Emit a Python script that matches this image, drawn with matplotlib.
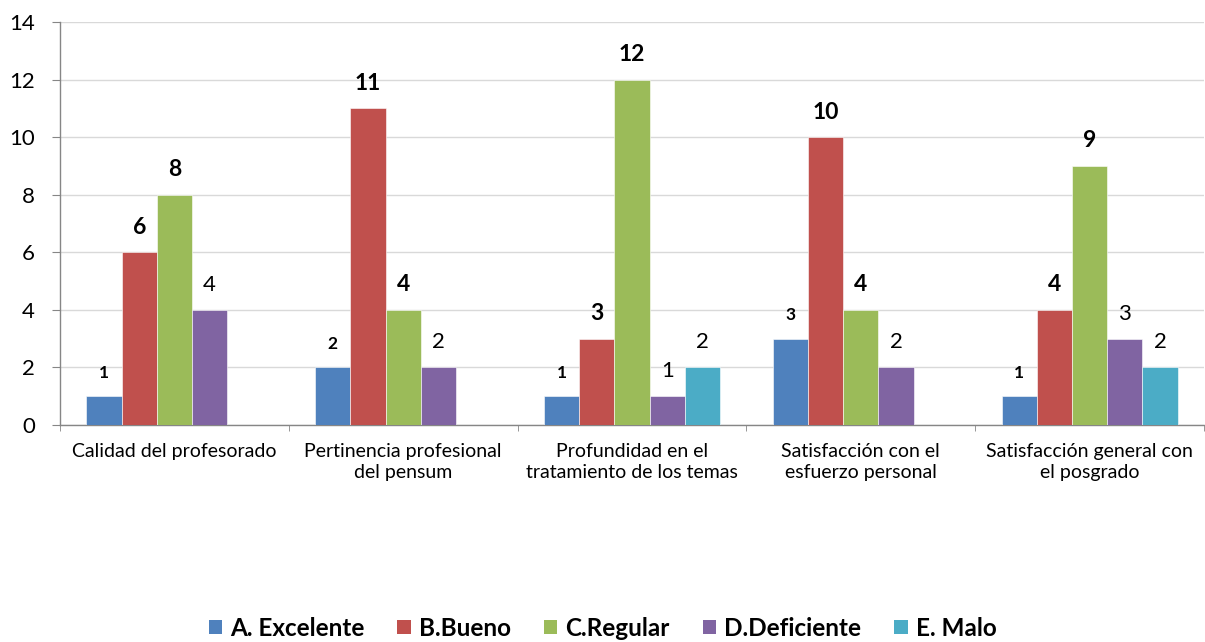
import matplotlib
matplotlib.use("Agg")
import matplotlib.pyplot as plt
from matplotlib.patches import Patch
import numpy as np

plt.rcParams['font.family'] = ['Lato', 'DejaVu Sans']

categories = ["Calidad del profesorado", "Pertinencia profesional\ndel pensum",
              "Profundidad en el\ntratamiento de los temas", "Satisfacción con el\nesfuerzo personal",
              "Satisfacción general con\nel posgrado"]
series_names = ["A. Excelente", "B.Bueno", "C.Regular", "D.Deficiente", "E. Malo"]
excelente = [1, 2, 1, 3, 1]
bueno = [6, 11, 3, 10, 4]
regular = [8, 4, 12, 4, 9]
deficiente = [4, 2, 1, 2, 3]
malo = [None, None, 2, None, 2]
y_ticks = [0, 2, 4, 6, 8, 10, 12, 14]

series = [excelente, bueno, regular, deficiente, malo]
colors = ["#4F81BD", "#C0504D", "#9BBB59", "#8064A2", "#4BACC6"]
label_styles = [dict(fontsize=12.5, fontweight='bold'),
                dict(fontsize=16.5, fontweight='bold'),
                dict(fontsize=16.5, fontweight='bold'),
                dict(fontsize=16, fontweight='normal'),
                dict(fontsize=16, fontweight='normal')]
label_offsets = [17, 18, 18, 18, 18]

fig = plt.figure(figsize=(12.05, 6.42), dpi=100)
ax = fig.add_axes([60/1205, (642-425)/642, 1144/1205, 403/642])

n = len(series)
bw = 1/6.5
x = np.arange(len(categories))
for i, (vals, c) in enumerate(zip(series, colors)):
    off = (i - (n-1)/2) * bw
    for j, v in enumerate(vals):
        if v is None:
            continue
        ax.bar(x[j] + off, v, width=bw, color=c, edgecolor='white', linewidth=0.4, zorder=3)
        ax.annotate(str(v), (x[j] + off, v), xytext=(0, label_offsets[i]), textcoords='offset points',
                    ha='center', va='center', color='black', **label_styles[i])

ax.set_xlim(-0.5, len(categories) - 0.5)
ax.set_ylim(0, 14)
ax.set_yticks(y_ticks)
ax.tick_params(axis='y', labelsize=16, length=6, color='#868686', pad=12)
ax.set_xticks(x)
ax.set_xticklabels(categories, fontsize=14, linespacing=1.3)
ax.tick_params(axis='x', which='major', length=0, pad=13)
ax.set_xticks(np.arange(-0.5, len(categories)), minor=True)
ax.tick_params(axis='x', which='minor', length=4, color='#868686')
ax.grid(axis='y', color='#D9D9D9', linewidth=1, zorder=0)
for s in ['top', 'right']:
    ax.spines[s].set_visible(False)
for s in ['left', 'bottom']:
    ax.spines[s].set_color('#868686')
    ax.spines[s].set_linewidth(1)
ax.set_axisbelow(True)

handles = [Patch(facecolor=c) for c in colors]
fig.legend(handles, series_names, loc='center', bbox_to_anchor=(0.5, 1 - 628/642), ncol=5,
           frameon=False, prop=dict(size=17.5, weight='bold'), handlelength=0.55, handleheight=0.55,
           handletextpad=0.33, columnspacing=1.36)

fig.savefig("out.png", dpi=100)
